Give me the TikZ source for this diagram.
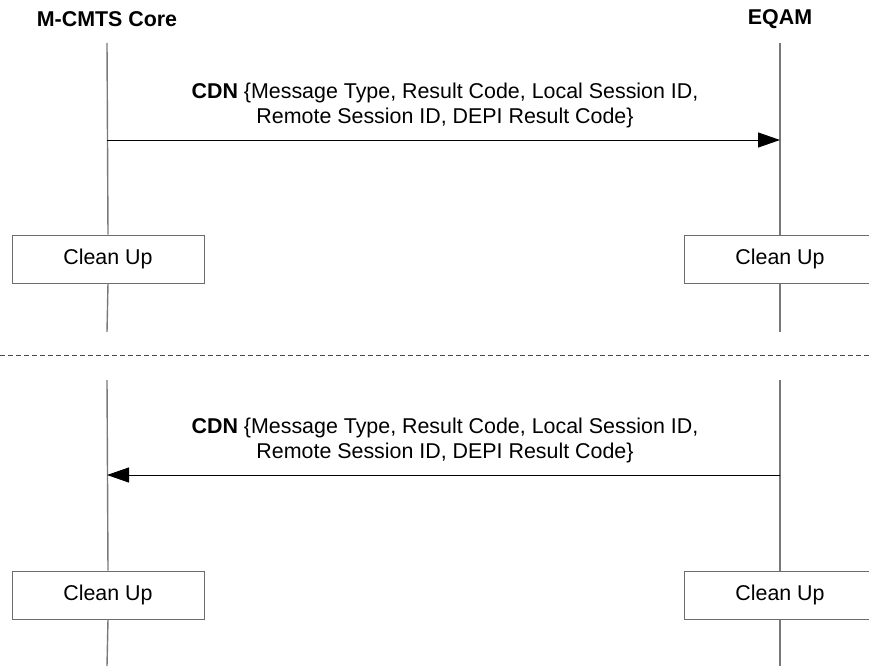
\documentclass[tikz,border=0pt]{standalone}
\usepackage{fontspec}
\setmainfont{Liberation Sans}
\usetikzlibrary{arrows.meta}
\begin{document}
\begin{tikzpicture}[x=1pt,y=-1pt,
  every node/.style={font=\fontsize{21.4}{25}\selectfont, inner sep=0pt},
  lifeline/.style={draw=gray!95!black, line width=1.4pt},
  box/.style={draw=gray!85!black, line width=1pt, fill=white, minimum width=192pt, minimum height=48pt},
  msg/.style={draw=black, line width=1pt, -{Triangle[length=22pt,width=15pt]}},
  title/.style={font=\fontsize{21.4}{25}\selectfont\bfseries},
  lbl/.style={align=center}]
\useasboundingbox (0,0) rectangle (869,666);
% titles
\node[title] (tA) at (107,19) {M-CMTS Core};
\node[title] (tB) at (780,19) {EQAM};
% section 1
\coordinate (a1t) at (107,43);
\coordinate (b1t) at (780,43);
\node[box] (a1box) at (108,259) {Clean Up};
\node[box] (b1box) at (780,259) {Clean Up};
\coordinate (a1b) at (107,332);
\coordinate (b1b) at (780,332);
\draw[lifeline] (a1t) -- (a1box.north);
\draw[lifeline] (a1box.south) -- (a1b);
\draw[lifeline] (b1t) -- (b1box.north);
\draw[lifeline] (b1box.south) -- (b1b);
\coordinate (m1a) at (107,140);
\coordinate (m1b) at (780,140);
\draw[msg] (m1a) -- (m1b);
\node[lbl] (l1) at (445,105) {\textbf{CDN} \{Message Type, Result Code, Local Session ID,\\Remote Session ID, DEPI Result Code\}};
% separator
\coordinate (s1) at (0,355);
\coordinate (s2) at (869,355);
\draw[gray!60!black, line width=1pt, dash pattern=on 5pt off 3pt] (s1) -- (s2);
% section 2
\coordinate (a2t) at (107,380);
\coordinate (b2t) at (780,380);
\node[box] (a2box) at (108,595) {Clean Up};
\node[box] (b2box) at (780,595) {Clean Up};
\coordinate (a2b) at (107,666);
\coordinate (b2b) at (780,666);
\draw[lifeline] (a2t) -- (a2box.north);
\draw[lifeline] (a2box.south) -- (a2b);
\draw[lifeline] (b2t) -- (b2box.north);
\draw[lifeline] (b2box.south) -- (b2b);
\coordinate (m2a) at (107,475);
\coordinate (m2b) at (780,475);
\draw[msg] (m2b) -- (m2a);
\node[lbl] (l2) at (445,440) {\textbf{CDN} \{Message Type, Result Code, Local Session ID,\\Remote Session ID, DEPI Result Code\}};
\end{tikzpicture}
\end{document}
